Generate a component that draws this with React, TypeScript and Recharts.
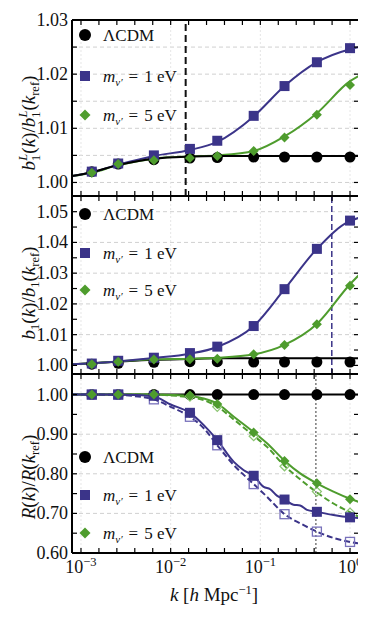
import React from "react";
import {
  ComposedChart,
  Line,
  Scatter,
  XAxis,
  YAxis,
  ReferenceLine,
  Legend,
} from "recharts";

const BLUE = "#3b3489";
const GREEN = "#4e9c2d";
const BLUE_LIGHT = "#7871bb";
const GREEN_LIGHT = "#8cc573";
const FONT = "'Liberation Serif', 'DejaVu Serif', serif";

// k in h/Mpc
const kMin = 0.000794;
const kMax = 1.259;
const kPoints = [0.00132, 0.0026, 0.0065, 0.0164, 0.0331, 0.0843, 0.186, 0.427, 1.0];
const kCurve = [0.000794, 0.00132, 0.0026, 0.0065, 0.0164, 0.0331, 0.0843, 0.186, 0.427, 1.0, 1.259];
const xTickLogs = [-3, -2.8, -2.6, -2.4, -2.2, -2, -1.8, -1.6, -1.4, -1.2, -1, -0.8, -0.6, -0.4, -0.2, 0];
const xTicks = xTickLogs.map((l) => Math.pow(10, l));
const xDecades = [0.001, 0.01, 0.1, 1];

// panel 1: linear bias b1^L(k)/b1^L(kref)
const p1LcdmCurve = [1.0012, 1.0019, 1.0032, 1.0044, 1.0048, 1.0049, 1.0049, 1.0049, 1.0049, 1.0049, 1.0049];
const p1Nu1Curve = [1.0012, 1.0019, 1.0033, 1.0049, 1.006, 1.0075, 1.0122, 1.0178, 1.0222, 1.0246, 1.025];
const p1Nu5Curve = [1.0012, 1.0018, 1.0032, 1.0044, 1.0048, 1.005, 1.0058, 1.0085, 1.0128, 1.0187, 1.0197];
const p1LcdmPts = [1.002, 1.0034, 1.0042, 1.0045, 1.0046, 1.0047, 1.0047, 1.0047, 1.0047];
const p1Nu1Pts = [1.002, 1.0035, 1.005, 1.0062, 1.0077, 1.0123, 1.0178, 1.0222, 1.0248];
const p1Nu5Pts = [1.0018, 1.0034, 1.0041, 1.0045, 1.0049, 1.0058, 1.0083, 1.0125, 1.018];
const p1YTicks = [1.0, 1.005, 1.01, 1.015, 1.02, 1.025, 1.03];
const p1Grid = [1.0, 1.005, 1.01, 1.015, 1.02, 1.025];
const p1Cut = 0.0147;

// panel 2: b1(k)/b1(kref)
const p2LcdmCurve = [1.0004, 1.0007, 1.0012, 1.0018, 1.0021, 1.0023, 1.0023, 1.0023, 1.0023, 1.0023, 1.0023];
const p2Nu1Curve = [1.0004, 1.0007, 1.0013, 1.0024, 1.0038, 1.006, 1.0128, 1.0248, 1.0379, 1.047, 1.048];
const p2Nu5Curve = [1.0004, 1.0007, 1.0013, 1.002, 1.0022, 1.0025, 1.0036, 1.0067, 1.0135, 1.0264, 1.0294];
const p2LcdmPts = [1.0004, 1.0007, 1.001, 1.0012, 1.0012, 1.0011, 1.0011, 1.0011, 1.0011];
const p2Nu1Pts = [1.0006, 1.0015, 1.0025, 1.004, 1.0061, 1.0128, 1.0248, 1.0379, 1.0471];
const p2Nu5Pts = [1.0004, 1.0012, 1.0019, 1.002, 1.0022, 1.0036, 1.0066, 1.0134, 1.0259];
const p2YTicks = [1.0, 1.005, 1.01, 1.015, 1.02, 1.025, 1.03, 1.035, 1.04, 1.045, 1.05];
const p2Grid = [1.01, 1.02, 1.03, 1.04, 1.05];
const p2Cut = 0.626;

// panel 3: R(k)/R(kref), solid = filled markers, dashed = open markers
const p3LcdmK = [0.000794, 1.259];
const p3LcdmCurve = [1.0, 1.0];
const p3Nu1K = [0.000794, 0.00132, 0.0026, 0.00398, 0.0065, 0.01, 0.0164, 0.0234, 0.0331, 0.0506, 0.0653, 0.0843, 0.109, 0.129, 0.153, 0.186, 0.234, 0.278, 0.331, 0.427, 0.653, 1.0, 1.259];
const p3Nu1Curve = [1.0, 1.0, 1.0, 0.999, 0.995, 0.975, 0.954, 0.923, 0.885, 0.83, 0.809, 0.795, 0.767, 0.761, 0.745, 0.735, 0.722, 0.72, 0.709, 0.704, 0.696, 0.69, 0.688];
const p3Nu1DashK = [0.000794, 0.00132, 0.0026, 0.00398, 0.0065, 0.01, 0.0164, 0.0234, 0.0331, 0.0506, 0.0843, 0.1186, 0.186, 0.278, 0.427, 0.653, 1.0, 1.259];
const p3Nu1DashCurve = [1.0, 1.0, 0.999, 0.996, 0.988, 0.969, 0.944, 0.915, 0.872, 0.822, 0.774, 0.742, 0.698, 0.675, 0.654, 0.638, 0.628, 0.624];
const p3Nu5K = [0.000794, 0.00132, 0.0026, 0.0065, 0.01, 0.0164, 0.0234, 0.0331, 0.0506, 0.0843, 0.1186, 0.186, 0.278, 0.427, 0.653, 1.0, 1.259];
const p3Nu5Curve = [1.0, 1.0, 1.0, 1.0, 0.999, 0.996, 0.99, 0.977, 0.944, 0.905, 0.877, 0.833, 0.801, 0.776, 0.755, 0.737, 0.729];
const p3Nu5DashCurve = [1.0, 1.0, 1.0, 1.0, 0.998, 0.993, 0.986, 0.97, 0.937, 0.896, 0.868, 0.82, 0.786, 0.753, 0.725, 0.703, 0.691];
const p3LcdmPts = [1.0, 1.0, 1.0, 1.0, 1.0, 1.0, 1.0, 1.0, 1.0];
const p3Nu1Pts = [1.0, 1.0, 0.997, 0.954, 0.885, 0.795, 0.735, 0.704, 0.69];
const p3Nu1OpenPts = [1.0, 1.0, 0.988, 0.944, 0.872, 0.774, 0.698, 0.654, 0.628];
const p3Nu5Pts = [1.0, 1.0, 1.0, 0.998, 0.976, 0.904, 0.832, 0.776, 0.736];
const p3Nu5OpenPts = [1.0, 1.0, 1.0, 0.995, 0.969, 0.895, 0.819, 0.755, 0.702];
const p3YTicks = [0.6, 0.65, 0.7, 0.75, 0.8, 0.85, 0.9, 0.95, 1.0];
const p3Grid = [0.7, 0.8, 0.9];
const p3Cut = 0.416;

type P = { k: number; v: number };
const zip = (ks: number[], vs: number[]): P[] => ks.map((k, i) => ({ k, v: vs[i] }));

type Kind = "circle" | "square" | "diamond";

function marker(kind: Kind, cx: number, cy: number, size: number, color: string, hollow?: boolean) {
  const fill = hollow ? "none" : color;
  const stroke = color;
  const sw = hollow ? 1.3 : 0;
  const h = size / 2;
  if (kind === "circle") return <circle cx={cx} cy={cy} r={h} fill={fill} stroke={stroke} strokeWidth={sw} />;
  if (kind === "square")
    return <rect x={cx - h} y={cy - h} width={size} height={size} fill={fill} stroke={stroke} strokeWidth={sw} />;
  return (
    <polygon
      points={`${cx},${cy - h} ${cx + h},${cy} ${cx},${cy + h} ${cx - h},${cy}`}
      fill={fill}
      stroke={stroke}
      strokeWidth={sw}
    />
  );
}

function XTick(props: any) {
  const { x, y, payload, dir, labels } = props;
  const lg = Math.log10(payload.value);
  const exp = Math.round(lg);
  const major = Math.abs(lg - exp) < 1e-6;
  return (
    <g>
      <line x1={x} x2={x} y1={y} y2={y + dir * 5} stroke="#000" strokeWidth={1.2} />
      {labels && major && (
        <text x={x} y={y + 20} textAnchor="middle" fontFamily={FONT} fontSize={18} fill="#111">
          10
          <tspan dy={-7} fontSize={12.5}>
            {exp === 0 ? "0" : "\u2212" + Math.abs(exp)}
          </tspan>
        </text>
      )}
    </g>
  );
}

function YTick(props: any) {
  const { x, y, payload, dir, step } = props;
  const v = payload.value;
  const show = step && Math.abs(v / step - Math.round(v / step)) < 1e-6;
  return (
    <g>
      <line x1={x} x2={x + dir * 5} y1={y} y2={y} stroke="#000" strokeWidth={1.2} />
      {show && (
        <text x={x - 4} y={y + 6} textAnchor="end" fontFamily={FONT} fontSize={18} fill="#111">
          {v.toFixed(2)}
        </text>
      )}
    </g>
  );
}

const mLabel = (mass: string) => (
  <>
    <tspan fontStyle="italic">m</tspan>
    <tspan fontStyle="italic" fontSize={11} dy={4}>
      {"\u03bd\u2032"}
    </tspan>
    <tspan dy={-4} dx={6}>=</tspan>
    <tspan dx={6}>{mass} eV</tspan>
  </>
);

const legendItems: { kind: Kind; color: string; label: React.ReactNode }[] = [
  { kind: "circle", color: "#000", label: "\u039bCDM" },
  { kind: "square", color: BLUE, label: mLabel("1") },
  { kind: "diamond", color: GREEN, label: mLabel("5") },
];

function LegendBox({ rows }: { rows: number[] }) {
  return (
    <svg width={120} height={rows[2] + 24} style={{ display: "block" }}>
      {legendItems.map((it, i) => (
        <g key={i}>
          {marker(it.kind, 12, rows[i] + 12, it.kind === "circle" ? 12 : it.kind === "square" ? 10 : 11, it.color)}
          <text x={30} y={rows[i] + 17.5} fontFamily={FONT} fontSize={17} fill="#111">
            {it.label}
          </text>
        </g>
      ))}
    </svg>
  );
}

type Curve = { data: P[]; color: string; dashed?: boolean };
type Marks = { data: P[]; kind: Kind; color: string; size: number; hollow?: boolean };

const frame = { stroke: "#000", strokeWidth: 2 };

function Panel(props: {
  height: number;
  top: number;
  bottom: number;
  yDomain: [number, number];
  yTicks: number[];
  step: number;
  grid: number[];
  curves: Curve[];
  marks: Marks[];
  cut: { k: number; color: string; width: number; dash: string };
  legendTop: number;
  legendRows: number[];
  last?: boolean;
}) {
  const { height, top, bottom, yDomain, yTicks, step, grid, curves, marks, cut, legendTop, legendRows, last } = props;
  return (
    <ComposedChart width={358} height={height} margin={{ top, right: 6, bottom, left: 0 }}>
      {grid.map((g) => (
        <ReferenceLine key={"g" + g} y={g} stroke="#d0d0d0" strokeDasharray="4 3" strokeWidth={1} />
      ))}
      {xDecades.map((d) => (
        <ReferenceLine key={"d" + d} x={d} stroke="#e6e6e6" strokeDasharray="2 2" strokeWidth={1} />
      ))}
      <XAxis
        dataKey="k"
        type="number"
        scale="log"
        domain={[kMin, kMax]}
        allowDataOverflow
        ticks={xTicks}
        interval={0}
        height={1}
        tickSize={0}
        tickMargin={0}
        tickLine={false}
        axisLine={frame}
        tick={(p: any) => <XTick {...p} dir={-1} labels={!!last} />}
      />
      <XAxis
        xAxisId="top"
        orientation="top"
        dataKey="k"
        type="number"
        scale="log"
        domain={[kMin, kMax]}
        allowDataOverflow
        ticks={xTicks}
        interval={0}
        height={1}
        tickSize={0}
        tickMargin={0}
        tickLine={false}
        axisLine={frame}
        tick={(p: any) => <XTick {...p} dir={1} labels={false} />}
      />
      <YAxis
        dataKey="v"
        type="number"
        domain={yDomain}
        allowDataOverflow
        ticks={yTicks}
        interval={0}
        width={64}
        tickSize={0}
        tickMargin={0}
        tickLine={false}
        axisLine={frame}
        tick={(p: any) => <YTick {...p} dir={1} step={step} />}
      />
      <YAxis
        yAxisId="right"
        orientation="right"
        dataKey="v"
        type="number"
        domain={yDomain}
        allowDataOverflow
        ticks={yTicks}
        interval={0}
        width={1}
        tickSize={0}
        tickMargin={0}
        tickLine={false}
        axisLine={frame}
        tick={(p: any) => <YTick {...p} dir={-1} step={0} />}
      />
      <ReferenceLine x={cut.k} stroke={cut.color} strokeWidth={cut.width} strokeDasharray={cut.dash} />
      {curves.map((c, i) => (
        <Line
          key={"c" + i}
          data={c.data}
          dataKey="v"
          type="monotone"
          stroke={c.color}
          strokeWidth={2}
          strokeDasharray={c.dashed ? "6 3" : undefined}
          dot={false}
          activeDot={false}
          isAnimationActive={false}
        />
      ))}
      {marks.map((m, i) => (
        <Scatter
          key={"m" + i}
          data={m.data}
          dataKey="v"
          isAnimationActive={false}
          shape={(s: any) => marker(m.kind, s.cx, s.cy, m.size, m.color, m.hollow)}
        />
      ))}
      <Legend
        layout="vertical"
        align="center"
        verticalAlign="middle"
        wrapperStyle={{ left: 65, top: legendTop }}
        content={() => <LegendBox rows={legendRows} />}
      />
    </ComposedChart>
  );
}

function TitleB1L({ x, y }: { x: number; y: number }) {
  return (
    <text x={x} y={y} transform={`rotate(-90 ${x} ${y})`} textAnchor="middle" fontFamily={FONT} fontSize={19} fill="#111">
      <tspan fontStyle="italic">b</tspan>
      <tspan fontSize={12.5} dy={5}>1</tspan>
      <tspan fontSize={12.5} fontStyle="italic" dx={-6} dy={-13}>L</tspan>
      <tspan dy={8}>(</tspan>
      <tspan fontStyle="italic">k</tspan>
      <tspan>)/</tspan>
      <tspan fontStyle="italic">b</tspan>
      <tspan fontSize={12.5} dy={5}>1</tspan>
      <tspan fontSize={12.5} fontStyle="italic" dx={-6} dy={-13}>L</tspan>
      <tspan dy={8}>(</tspan>
      <tspan fontStyle="italic">k</tspan>
      <tspan fontSize={12.5} dy={4}>ref</tspan>
      <tspan dy={-4}>)</tspan>
    </text>
  );
}

function TitleB1({ x, y }: { x: number; y: number }) {
  return (
    <text x={x} y={y} transform={`rotate(-90 ${x} ${y})`} textAnchor="middle" fontFamily={FONT} fontSize={19} fill="#111">
      <tspan fontStyle="italic">b</tspan>
      <tspan fontSize={12.5} dy={4}>1</tspan>
      <tspan dy={-4}>(</tspan>
      <tspan fontStyle="italic">k</tspan>
      <tspan>)/</tspan>
      <tspan fontStyle="italic">b</tspan>
      <tspan fontSize={12.5} dy={4}>1</tspan>
      <tspan dy={-4}>(</tspan>
      <tspan fontStyle="italic">k</tspan>
      <tspan fontSize={12.5} dy={4}>ref</tspan>
      <tspan dy={-4}>)</tspan>
    </text>
  );
}

function TitleR({ x, y }: { x: number; y: number }) {
  return (
    <text x={x} y={y} transform={`rotate(-90 ${x} ${y})`} textAnchor="middle" fontFamily={FONT} fontSize={19} fill="#111">
      <tspan fontStyle="italic">R</tspan>
      <tspan>(</tspan>
      <tspan fontStyle="italic">k</tspan>
      <tspan>)/</tspan>
      <tspan fontStyle="italic">R</tspan>
      <tspan>(</tspan>
      <tspan fontStyle="italic">k</tspan>
      <tspan fontSize={12.5} dy={4}>ref</tspan>
      <tspan dy={-4}>)</tspan>
    </text>
  );
}

const slot = (top: number): React.CSSProperties => ({ position: "absolute", left: 0, top });

export default function App() {
  const black = "#000";
  return (
    <div style={{ position: "relative", width: 358, height: 613 }}>
      <div style={slot(0)}>
        <Panel
          height={189}
          top={11}
          bottom={0}
          yDomain={[0.9975, 1.03]}
          yTicks={p1YTicks}
          step={0.01}
          grid={p1Grid}
          cut={{ k: p1Cut, color: "#111", width: 2, dash: "7 4" }}
          legendTop={15}
          legendRows={[0, 41, 80]}
          curves={[
            { data: zip(kCurve, p1Nu5Curve), color: GREEN },
            { data: zip(kCurve, p1Nu1Curve), color: BLUE },
            { data: zip(kCurve, p1LcdmCurve), color: black },
          ]}
          marks={[
            { data: zip(kPoints, p1LcdmPts), kind: "circle", color: black, size: 11 },
            { data: zip(kPoints, p1Nu1Pts), kind: "square", color: BLUE, size: 10 },
            { data: zip(kPoints, p1Nu5Pts), kind: "diamond", color: GREEN, size: 10 },
          ]}
        />
      </div>
      <div style={slot(187)}>
        <Panel
          height={180}
          top={0}
          bottom={0}
          yDomain={[0.9972, 1.0551]}
          yTicks={p2YTicks}
          step={0.01}
          grid={p2Grid}
          cut={{ k: p2Cut, color: BLUE, width: 1.5, dash: "6 3" }}
          legendTop={7}
          legendRows={[0, 39, 76]}
          curves={[
            { data: zip(kCurve, p2LcdmCurve), color: black },
            { data: zip(kCurve, p2Nu5Curve), color: GREEN },
            { data: zip(kCurve, p2Nu1Curve), color: BLUE },
          ]}
          marks={[
            { data: zip(kPoints, p2LcdmPts), kind: "circle", color: black, size: 11 },
            { data: zip(kPoints, p2Nu1Pts), kind: "square", color: BLUE, size: 10 },
            { data: zip(kPoints, p2Nu5Pts), kind: "diamond", color: GREEN, size: 10 },
          ]}
        />
      </div>
      <div style={slot(365)}>
        <Panel
          height={248}
          top={0}
          bottom={67}
          yDomain={[0.6, 1.052]}
          yTicks={p3YTicks}
          step={0.1}
          grid={p3Grid}
          cut={{ k: p3Cut, color: "#7a7a7a", width: 1.5, dash: "2 2" }}
          legendTop={72}
          legendRows={[0, 38, 76]}
          last
          curves={[
            { data: zip(p3LcdmK, p3LcdmCurve), color: black },
            { data: zip(p3Nu5K, p3Nu5DashCurve), color: GREEN, dashed: true },
            { data: zip(p3Nu5K, p3Nu5Curve), color: GREEN },
            { data: zip(p3Nu1DashK, p3Nu1DashCurve), color: BLUE, dashed: true },
            { data: zip(p3Nu1K, p3Nu1Curve), color: BLUE },
          ]}
          marks={[
            { data: zip(kPoints, p3LcdmPts), kind: "circle", color: black, size: 11 },
            { data: zip(kPoints, p3Nu5OpenPts), kind: "diamond", color: GREEN_LIGHT, size: 9, hollow: true },
            { data: zip(kPoints, p3Nu1OpenPts), kind: "square", color: BLUE_LIGHT, size: 9, hollow: true },
            { data: zip(kPoints, p3Nu1Pts), kind: "square", color: BLUE, size: 10 },
            { data: zip(kPoints, p3Nu5Pts), kind: "diamond", color: GREEN, size: 10 },
          ]}
        />
      </div>
      <svg
        width={358}
        height={613}
        style={{ position: "absolute", left: 0, top: 0, pointerEvents: "none" }}
      >
        <TitleB1L x={27} y={115} />
        <TitleB1 x={27} y={285} />
        <TitleR x={27} y={469} />
        <text x={206} y={593} textAnchor="middle" fontFamily={FONT} fontSize={19} fill="#111">
          <tspan fontStyle="italic">k</tspan>
          <tspan> [</tspan>
          <tspan fontStyle="italic">h</tspan>
          <tspan> Mpc</tspan>
          <tspan fontSize={12.5} dy={-7}>{"\u22121"}</tspan>
          <tspan dy={7}>]</tspan>
        </text>
      </svg>
    </div>
  );
}
